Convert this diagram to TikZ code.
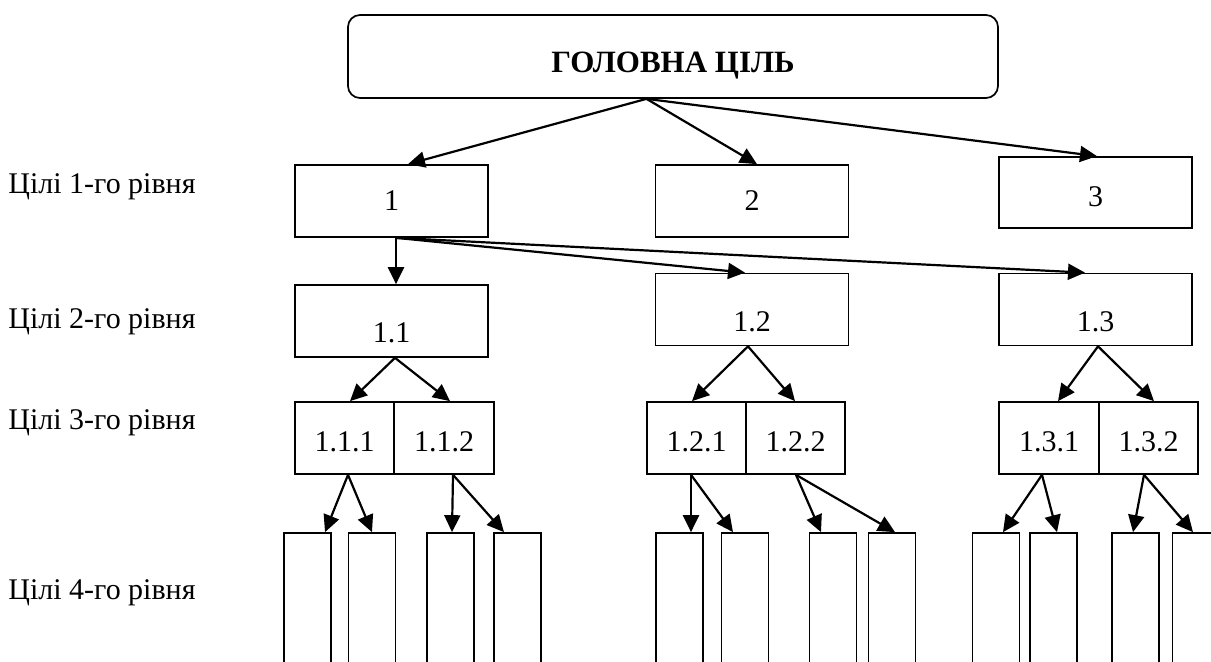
\documentclass[tikz,border=0pt]{standalone}
\usepackage{fontspec}
\setmainfont{Liberation Serif}
\usetikzlibrary{arrows.meta,positioning}

\begin{document}
\begin{tikzpicture}[x=0.5pt,y=-0.5pt,
        every node/.style={font=\fontsize{15}{18}\selectfont},
        box/.style={draw,line width=0.85pt,inner sep=0pt},
        goal/.style={box,minimum width=96.5pt,minimum height=36pt},
        sub/.style={box,minimum width=49.5pt,minimum height=36pt,
                    text height=13.6pt,text depth=0pt},
        leaf/.style={box,minimum width=23.5pt,minimum height=85pt},
        lowtext/.style={text height=21.6pt,text depth=0pt},
        lvl/.style={anchor=west,inner sep=0pt},
        arr/.style={-{Triangle[length=8.5pt,width=8pt]},line width=1.1pt}]
      \clip (0,0) rectangle (1211,662);
      % main goal
      \node[box,rounded corners=6pt,minimum width=325pt,minimum height=41.5pt,
            font=\fontsize{15.5}{18}\selectfont\bfseries,
            text height=16pt,text depth=0pt] (top) at (673,56.5) {ГОЛОВНА ЦІЛЬ};
      % level labels
      \node[lvl] (l1) at (8,187) {Цілі 1-го рівня};
      \node[lvl] (l2) at (8,322) {Цілі 2-го рівня};
      \node[lvl] (l3) at (8,423) {Цілі 3-го рівня};
      \node[lvl] (l4) at (8,593) {Цілі 4-го рівня};
      % level 1
      \node[goal] (g1) at (391.5,201) {1};
      \node[goal] (g2) at (752,201)   {2};
      \node[goal,minimum height=35.5pt,text height=14pt,text depth=0pt] (g3) at (1095.5,192.5) {3};
      % level 2
      \node[goal,lowtext] (g11) at (391.5,321)  {1.1};
      \node[goal,lowtext] (g12) at (752,309.5)  {1.2};
      \node[goal,lowtext] (g13) at (1095.5,309.5) {1.3};
      % level 3
      \node[sub] (g111) at (344.5,438)  {1.1.1};
      \node[sub,minimum width=50pt] (g112) at (444,438) {1.1.2};
      \node[sub] (g121) at (696.5,438)  {1.2.1};
      \node[sub] (g122) at (795.5,438)  {1.2.2};
      \node[sub,minimum width=50pt] (g131) at (1049,438) {1.3.1};
      \node[sub] (g132) at (1148.5,438) {1.3.2};
      % level 4
      \foreach \n/\x in {1/307.5,2/372,3/450.5,4/517.5,5/679.5,6/745,
                         7/833,8/892,9/996,10/1053.5,11/1135.5,12/1196}{
        \node[leaf] (t\n) at (\x,618) {};
      }
      \foreach \a/\sa/\b/\sb in {top/-13.25/g1/8.25,top/-13.25/g2/2.5,top/-13.25/g3/0.75,
          g1/2.25/g11/2.25,g1/2.25/g12/-3.5,g1/2.25/g13/-5.25,
          g11/1.75/g111/2.75,g11/1.75/g112/3,
          g12/-2/g121/-2.25,g12/-2/g122/-0.25,
          g13/1.25/g131/4.5,g13/1.25/g132/2.75,
          g111/1.75/t1/8.75,g111/1.75/t2/0,g112/4.5/t3/0.75,g112/4.5/t4/-6.75,
          g121/-2.75/t5/5.75,g121/-2.75/t6/-6,g122/0.25/t7/-6,g122/0.25/t8/1.5,
          g131/-3.5/t9/3.5,g131/-3.5/t10/1.75,g132/-2.25/t11/-1.25,g132/-2.25/t12/-1.5}{
        \draw[arr] ([xshift=\sa pt]\a.south) -- ([xshift=\sb pt]\b.north);
      }
    \end{tikzpicture}
\end{document}
